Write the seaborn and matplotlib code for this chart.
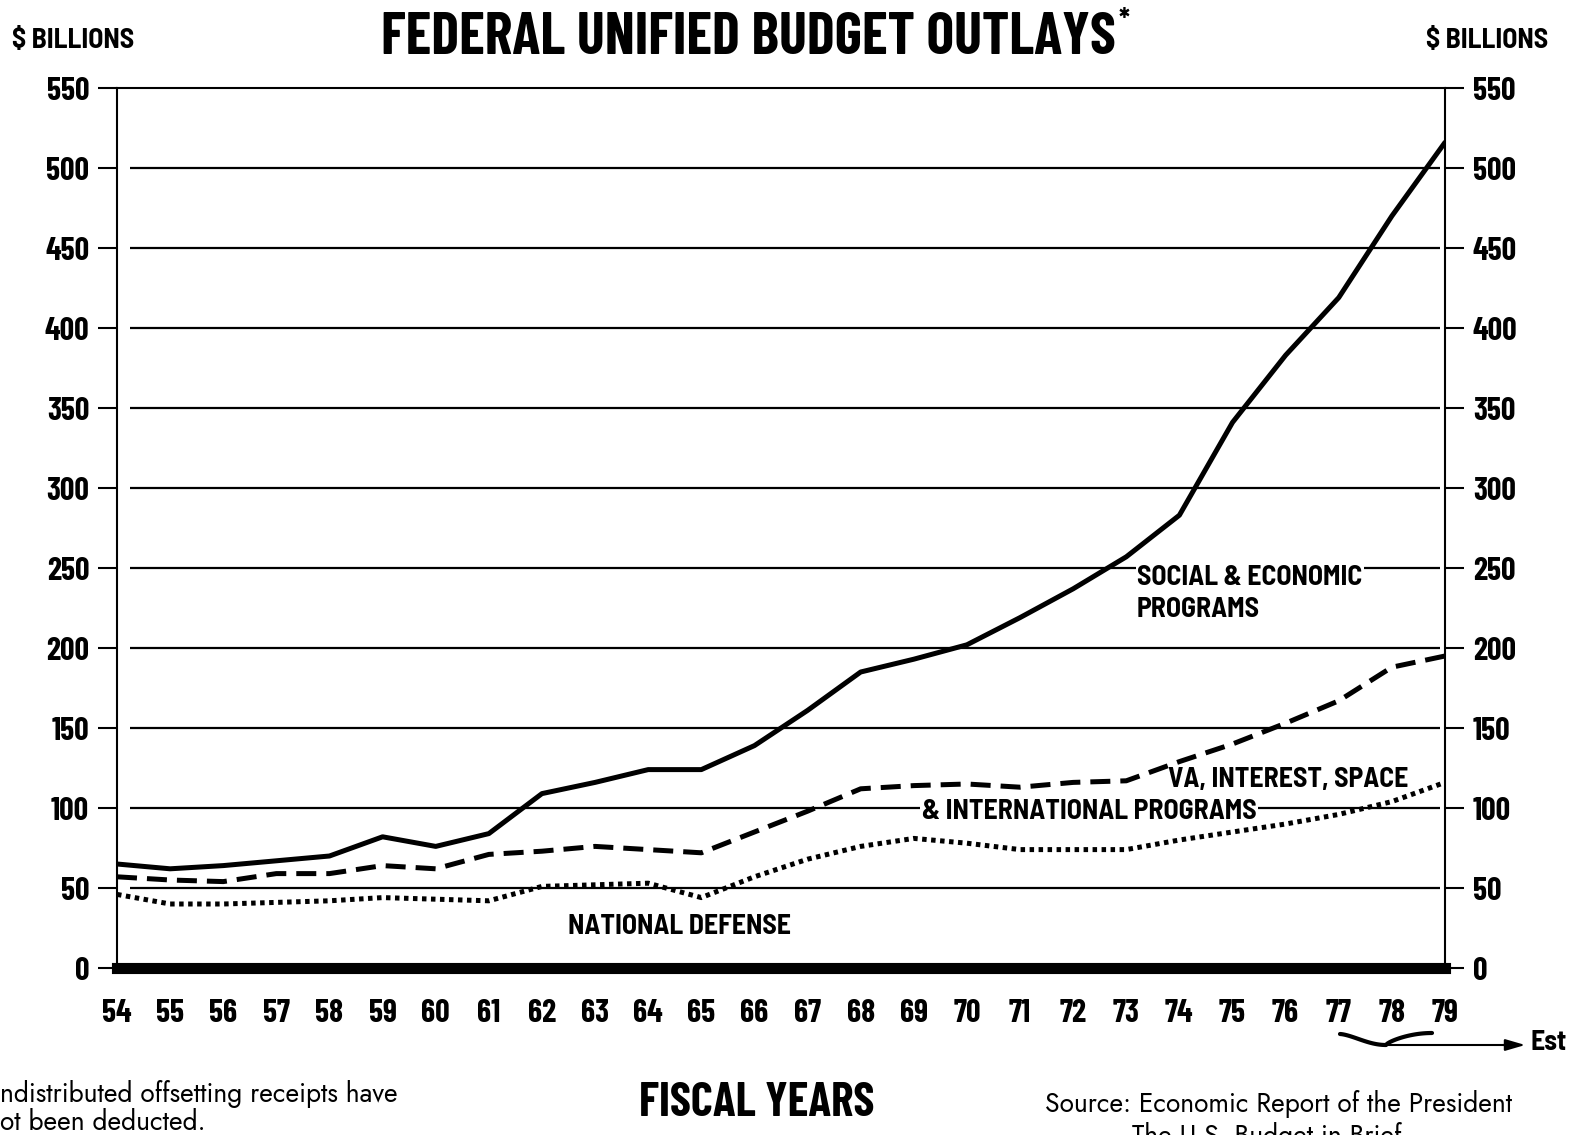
import matplotlib.pyplot as plt
import numpy as np
import pandas as pd
import seaborn as sns

# fiscal years 1954-1979 (78, 79 estimated)
years = list(range(54, 80))
year_labels = [str(y) for y in years]

# $ billions
social_economic = [65, 62, 64, 67, 70, 82, 76, 84, 109, 116, 124, 124, 139,
                   161, 185, 193, 202, 219, 237, 257, 283, 341, 383, 419, 470, 516]
va_interest_space_intl = [57, 55, 54, 59, 59, 64, 62, 71, 73, 76, 74, 72, 85,
                          98, 112, 114, 115, 113, 116, 117, 129, 140, 153, 167, 188, 195]
national_defense = [46, 40, 40, 41, 42, 44, 43, 42, 51, 52, 53, 44, 57,
                    68, 76, 81, 78, 74, 74, 74, 80, 85, 90, 96, 104, 116]

y_ticks = list(range(0, 551, 50))

sns.set_style("white")
COND = ["Barlow Condensed", "DejaVu Sans"]
SEMI = ["Barlow Semi Condensed", "Barlow Condensed", "DejaVu Sans"]
plt.rcParams["font.family"] = COND
plt.rcParams["text.color"] = "black"
plt.rcParams["xtick.color"] = "black"
plt.rcParams["ytick.color"] = "black"

df = pd.DataFrame({
    "year": years * 3,
    "value": social_economic + va_interest_space_intl + national_defense,
    "series": ["social"] * 26 + ["va"] * 26 + ["defense"] * 26,
})

W, H = 1575, 1135
fig = plt.figure(figsize=(W / 100, H / 100), dpi=100)
ax = fig.add_axes([117 / W, 1 - 968 / H, (1445 - 117) / W, (968 - 88) / H])

# horizontal rules
ax.hlines(y_ticks[1:-1], 54.25, 78.9, color="black", lw=1.6, zorder=1)

sns.lineplot(data=df, x="year", y="value", style="series", color="black",
             dashes={"social": "", "va": (4, 2), "defense": (0.9, 0.9)},
             lw=3.6, legend=False, ax=ax, zorder=3)

ax.set_xlim(54, 79)
ax.set_ylim(0, 550)
ax.set_xlabel("")
ax.set_ylabel("")

for s in ["left", "right", "top"]:
    ax.spines[s].set_linewidth(1.5)
    ax.spines[s].set_color("black")
ax.spines["bottom"].set_linewidth(8)
ax.spines["bottom"].set_color("black")

ax.set_xticks(years)
ax.set_xticklabels(year_labels)
ax.set_yticks(y_ticks)
ax.set_yticklabels([str(v) for v in y_ticks])
ax.tick_params(axis="x", direction="in", length=16, width=1.5, pad=22,
               labelsize=23)
ax.tick_params(axis="y", direction="out", length=14, width=1.5, pad=6,
               left=True, right=True, labelleft=True, labelright=True,
               labelsize=23)
for t in ax.xaxis.get_major_ticks() + ax.yaxis.get_major_ticks():
    t.label1.set_fontweight("bold")
    t.label2.set_fontweight("bold")

# series labels
box = dict(facecolor="white", edgecolor="none", pad=1)
lab_kw = dict(fontsize=20, fontweight="bold", family=SEMI, va="center", ha="left", zorder=4)
ax.text(73.2, 244, "SOCIAL & ECONOMIC", bbox=box, **lab_kw)
ax.text(73.2, 224, "PROGRAMS", **lab_kw)
ax.text(73.79, 118, "VA, INTEREST, SPACE", **lab_kw)
ax.text(69.15, 98, "& INTERNATIONAL PROGRAMS", bbox=box, **lab_kw)
ax.text(62.49, 26, "NATIONAL DEFENSE", **lab_kw)


def fx(px):
    return px / W


def fy(py):
    return 1 - py / H


title = fig.text(fx(748), fy(38), "FEDERAL UNIFIED BUDGET OUTLAYS", fontsize=42,
                 fontweight="bold", ha="center", va="center")
ax.annotate("*", xy=(1.0, 1.0), xycoords=title, xytext=(2, 2),
            textcoords="offset points", fontsize=22, fontweight="bold",
            ha="left", va="top")
fig.text(fx(12), fy(40), "$ BILLIONS", fontsize=20, fontweight="bold", family=SEMI,
         ha="left", va="center")
fig.text(fx(1548), fy(40), "$ BILLIONS", fontsize=20, fontweight="bold", family=SEMI,
         ha="right", va="center")
fig.text(fx(757), fy(1104), "FISCAL YEARS", fontsize=34, fontweight="bold",
         ha="center", va="center")

foot = ["Jost", "Lato", "DejaVu Sans"]
fig.text(fx(0), fy(1094), "ndistributed offsetting receipts have", fontsize=19,
         family=foot, ha="left", va="center")
fig.text(fx(0), fy(1122), "ot been deducted.", fontsize=19, family=foot,
         ha="left", va="center")
fig.text(fx(1045), fy(1104), "Source: Economic Report of the President", fontsize=19,
         family=foot, ha="left", va="center")
fig.text(fx(1132), fy(1136), "The U.S. Budget in Brief", fontsize=19,
         family=foot, ha="left", va="center")

# estimate bracket under 78-79
bx_px = np.concatenate([np.linspace(1340, 1386, 30), np.linspace(1386, 1432, 30)])
by_px = np.concatenate([
    1034 + 11 * np.sin(np.linspace(0, np.pi / 2, 30)) ** 1.5,
    1045 - 12 * np.sin(np.linspace(0, np.pi / 2, 30)) ** 0.7,
])
fig.add_artist(plt.Line2D(fx(bx_px), fy(by_px), color="black", lw=3))
fig.add_artist(plt.Line2D([fx(1386), fx(1505)], [fy(1045), fy(1045)], color="black", lw=1.5))
ax.annotate("", xy=(fx(1528), fy(1045)), xytext=(fx(1500), fy(1045)),
            xycoords="figure fraction", textcoords="figure fraction",
            arrowprops=dict(arrowstyle="-|>,head_length=1.2,head_width=0.35",
                            color="black", lw=1.5))
fig.text(fx(1530), fy(1043), "Est", fontsize=20, fontweight="bold", family=SEMI,
         ha="left", va="center")

fig.savefig("out.png", dpi=100)
